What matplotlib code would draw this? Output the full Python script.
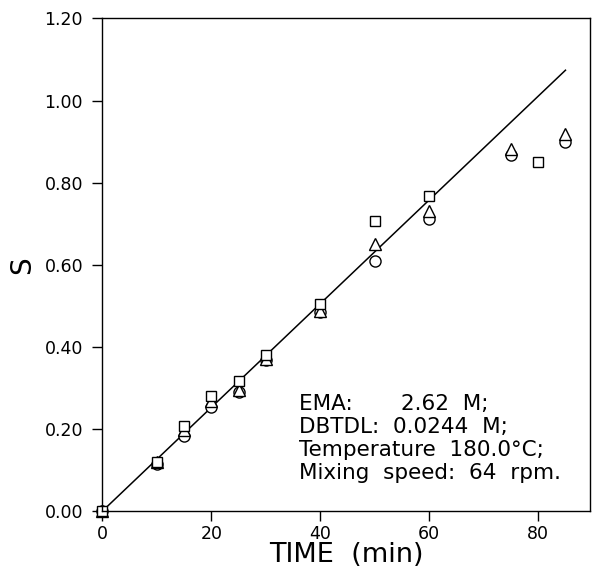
import matplotlib
matplotlib.use('Agg')
import matplotlib.pyplot as plt

# data
time_sq = [0, 10, 15, 20, 25, 30, 40, 50, 60, 80]
s_sq = [0.0, 0.120, 0.207, 0.280, 0.316, 0.380, 0.505, 0.707, 0.768, 0.851]

time_tri = [0, 10, 15, 20, 25, 30, 40, 50, 60, 75, 85]
s_tri = [0.0, 0.120, 0.197, 0.268, 0.295, 0.370, 0.487, 0.650, 0.730, 0.882, 0.918]

time_circ = [0, 10, 15, 20, 25, 30, 40, 50, 60, 75, 85]
s_circ = [0.0, 0.115, 0.183, 0.253, 0.290, 0.368, 0.484, 0.610, 0.712, 0.868, 0.899]

fit_time = [0, 85]
fit_s = [0.0, 1.074]

x_ticks = [0, 20, 40, 60, 80]
y_ticks = [0.0, 0.2, 0.4, 0.6, 0.8, 1.0, 1.2]

notes = ['EMA:       2.62  M;',
         'DBTDL:  0.0244  M;',
         'Temperature  180.0\u00b0C;',
         'Mixing  speed:  64  rpm.']

fig = plt.figure(figsize=(5.92, 5.69), dpi=100)
ax = fig.add_axes([0.1731, 0.1019, 0.8235, 0.8656])

ax.plot(fit_time, fit_s, '-k', lw=1.1)
mk = dict(linestyle='none', mfc='white', mec='black', mew=1.0)
ax.plot(time_circ, s_circ, marker='o', ms=8, **mk)
ax.plot(time_tri, s_tri, marker='^', ms=8, **mk)
ax.plot(time_sq, s_sq, marker='s', ms=7.5, **mk)

ax.set_xlim(0, 89.5)
ax.set_ylim(0, 1.2)
ax.set_xticks(x_ticks)
ax.set_yticks(y_ticks)
ax.set_yticklabels(['%.2f' % v for v in y_ticks])
ax.tick_params(axis='x', direction='out', length=7, width=1, pad=3, labelsize=12.5)
ax.tick_params(axis='y', direction='out', length=7, width=1, pad=7, labelsize=12.5)
for sp in ax.spines.values():
    sp.set_linewidth(1.0)
for ln in ax.lines:
    ln.set_clip_on(False)

ax.set_xlabel('TIME  (min)', fontsize=19.5, labelpad=-1)
ax.set_ylabel('S', fontsize=20, labelpad=6)

for i, line in enumerate(notes):
    ax.text(36, 0.261 - i * 0.056, line, fontsize=15.5, va='center', ha='left')

fig.savefig('out.png', dpi=100)
